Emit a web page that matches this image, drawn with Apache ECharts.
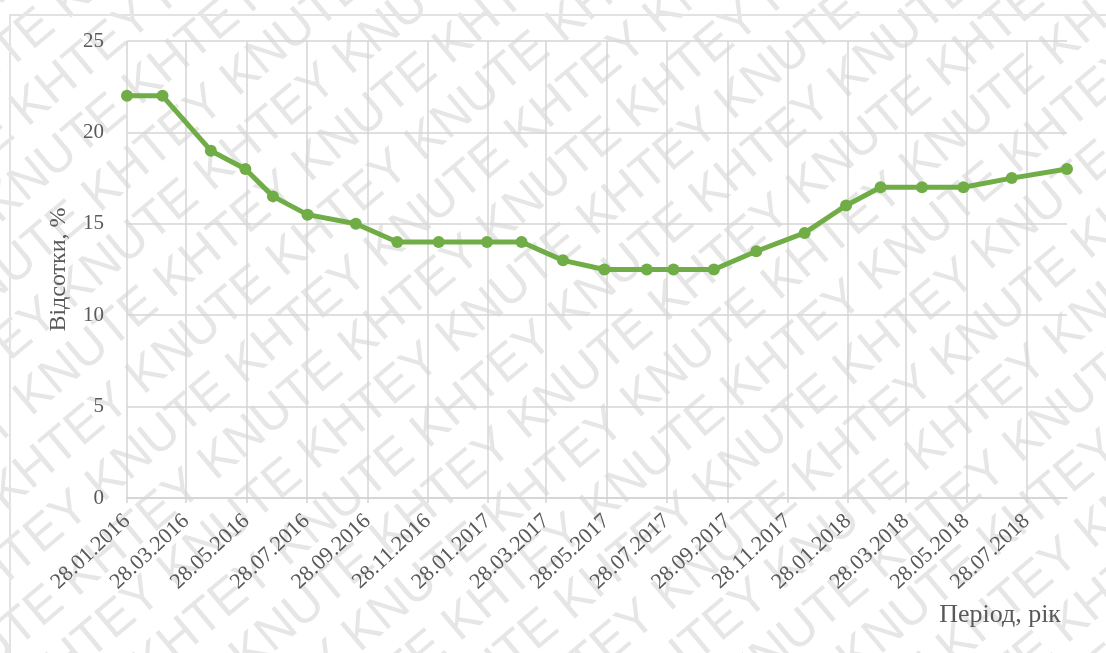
<!DOCTYPE html>
<html>
<head>
<meta charset="utf-8">
<script src="https://cdn.jsdelivr.net/npm/echarts@6/dist/echarts.min.js"></script>
<style>
  html, body { margin: 0; padding: 0; background: #ffffff; }
  #chart { width: 1106px; height: 653px; }
</style>
</head>
<body>
<div id="chart"></div>
<script>
// Дати зміни облікової ставки НБУ та значення ставки, %
const DATES = [
  '2016-01-28', '2016-03-04', '2016-04-22', '2016-05-27', '2016-06-24', '2016-07-29',
  '2016-09-16', '2016-10-28', '2016-12-09', '2017-01-27', '2017-03-03', '2017-04-14',
  '2017-05-26', '2017-07-08', '2017-08-04', '2017-09-14', '2017-10-27', '2017-12-15',
  '2018-01-26', '2018-03-02', '2018-04-13', '2018-05-25', '2018-07-13', '2018-09-07'
];
const RATES = [
  22, 22, 19, 18, 16.5, 15.5,
  15, 14, 14, 14, 14, 13,
  12.5, 12.5, 12.5, 12.5, 13.5, 14.5,
  16, 17, 17, 17, 17.5, 18
];
// Позначки на осі часу (кожні два місяці)
const TICK_DATES = [
  '2016-01-28', '2016-03-28', '2016-05-28', '2016-07-28', '2016-09-28', '2016-11-28',
  '2017-01-28', '2017-03-28', '2017-05-28', '2017-07-28', '2017-09-28', '2017-11-28',
  '2018-01-28', '2018-03-28', '2018-05-28', '2018-07-28'
];
const Y_MIN = 0, Y_MAX = 25, Y_STEP = 5;
const X_TITLE = 'Період, рік';
const Y_TITLE = 'Відсотки, %';

function ts(s) {
  const p = s.split('-').map(Number);
  return Date.UTC(p[0], p[1] - 1, p[2]);
}
function fmt(v) {
  const d = new Date(v);
  const dd = String(d.getUTCDate()).padStart(2, '0');
  const mm = String(d.getUTCMonth() + 1).padStart(2, '0');
  return dd + '.' + mm + '.' + d.getUTCFullYear();
}

const points = DATES.map((d, i) => [ts(d), RATES[i]]);
const tickValues = TICK_DATES.map(ts);

const SERIF = '"Liberation Serif", "Times New Roman", serif';
const TEXT = '#595959';
const GRID = '#d4d4d4';

// Фоновий водяний знак: діагональні рядки тексту
const W = 1106, H = 653;
const wmRows = [];
const ROW_STEP = 56;
const rowText = 'KHTEY KNUTE KHTEY KNUTE KHTEY KNUTE KHTEY KNUTE KHTEY KNUTE';
for (let r = -13; r <= 13; r++) {
  wmRows.push({
    type: 'text',
    x: (r % 2 === 0 ? 0 : -100),
    y: r * ROW_STEP,
    silent: true,
    style: {
      text: rowText,
      font: '50px "Liberation Sans", Arial, sans-serif',
      fill: '#e6e6e6',
      align: 'center',
      verticalAlign: 'middle'
    }
  });
}

const chart = echarts.init(document.getElementById('chart'), null, { renderer: 'canvas' });
chart.setOption({
  backgroundColor: '#ffffff',
  animation: false,
  graphic: [
    {
      type: 'group',
      x: W / 2,
      y: H / 2,
      rotation: 40 * Math.PI / 180,
      z: -10,
      silent: true,
      children: wmRows
    },
    {
      type: 'rect',
      z: -5,
      silent: true,
      shape: { x: 10, y: 15, width: 1200, height: 800 },
      style: { fill: 'none', stroke: '#d9d9d9', lineWidth: 1.5 }
    },
    {
      type: 'text',
      x: 1061,
      y: 615,
      style: {
        text: X_TITLE,
        font: '26px ' + SERIF,
        fill: TEXT,
        align: 'right',
        verticalAlign: 'middle'
      }
    }
  ],
  grid: {
    left: 127,
    top: 41,
    right: 39,
    bottom: 155,
    containLabel: false,
    outerBoundsMode: 'none'
  },
  xAxis: {
    type: 'value',
    min: ts(DATES[0]),
    max: ts(DATES[DATES.length - 1]),
    axisLine: { show: true, lineStyle: { color: GRID, width: 1.5 } },
    axisTick: {
      show: true,
      customValues: tickValues,
      length: 5,
      lineStyle: { color: GRID, width: 1.5 }
    },
    axisLabel: {
      customValues: tickValues,
      rotate: 43,
      margin: 20,
      formatter: fmt,
      color: TEXT,
      fontFamily: SERIF,
      fontSize: 22
    },
    splitLine: { show: true, lineStyle: { color: GRID, width: 1.5 } }
  },
  yAxis: {
    type: 'value',
    min: Y_MIN,
    max: Y_MAX,
    interval: Y_STEP,
    name: Y_TITLE,
    nameLocation: 'middle',
    nameRotate: 90,
    nameGap: 56,
    nameTextStyle: { color: TEXT, fontFamily: SERIF, fontSize: 24 },
    axisLine: { show: false },
    axisTick: { show: false },
    axisLabel: {
      margin: 23,
      color: TEXT,
      fontFamily: SERIF,
      fontSize: 21
    },
    splitLine: { show: true, lineStyle: { color: GRID, width: 1.5 } }
  },
  series: [{
    type: 'line',
    data: points,
    symbol: 'circle',
    symbolSize: 12,
    showSymbol: true,
    lineStyle: { color: '#70ad47', width: 5 },
    itemStyle: { color: '#70ad47' },
    z: 5
  }]
});
</script>
</body>
</html>
